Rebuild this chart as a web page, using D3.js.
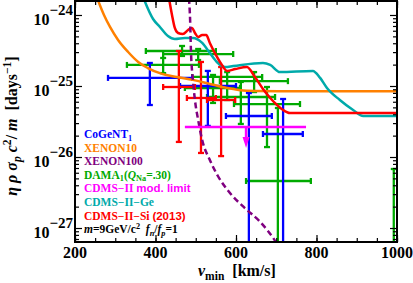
<!DOCTYPE html>
<meta charset="utf-8">
<script src="https://d3js.org/d3.v7.min.js"></script>
<style>
  body { margin: 0; background: #fff; }
  text { font-family: "Liberation Serif", "DejaVu Serif", serif; font-weight: bold; white-space: pre; }
</style>
<body>
<div id="chart"></div>
<script>
// error bars: [vmin, vminLo, vminHi, eta, etaLo, etaHi]   (0 = bar reaches zero)
const cogent = [
  [386, 282, 491, 1.30e-25, 5.40e-26, 2.11e-25],
  [530, 461, 600, 1.00e-25, 2.74e-26, 1.63e-25],
  [632, 575, 689, 3.78e-26, 0, 7.96e-26],
  [717, 667, 766, 2.11e-26, 0, 6.56e-26]
];
const dama = [
  [466, 376, 550, 3.11e-25, 2.65e-25, 3.66e-25],
  [506, 419, 593, 2.82e-25, 2.32e-25, 3.32e-25],
  [419, 329, 508, 1.98e-25, 1.52e-25, 2.48e-25],
  [578, 491, 665, 1.34e-25, 6.35e-26, 1.57e-25],
  [645, 560, 729, 1.17e-25, 8.22e-26, 1.57e-25],
  [543, 473, 610, 9.37e-26, 5.77e-26, 1.43e-25],
  [612, 528, 697, 7.00e-26, 2.92e-26, 1.14e-25],
  [677, 595, 759, 5.57e-26, 1.38e-26, 9.68e-26],
  [704, 625, 786, 4.59e-27, 0, 4.90e-26],
  [992, 960, 1025, 0, 0, 6.78e-27]
];
const cdmsSiPoints = [
  [458, 419, 498, 9.68e-26, 1.63e-26, 3.11e-25],
  [513, 478, 550, 6.78e-26, 1.14e-26, 2.18e-25],
  [563, 528, 598, 6.35e-26, 1.03e-26, 1.85e-25]
];

// limit curves
const xenon10V   = [255, 272, 287, 307, 332, 357, 381, 416, 453, 493, 535, 578, 627, 734, 1000];
const xenon10Eta = [1.73e-24, 1e-24, 6.78e-25, 4.45e-25, 3.01e-25, 2.18e-25, 1.79e-25, 1.48e-25,
                    1.34e-25, 1.22e-25, 1.07e-25, 9.37e-26, 8.6e-26, 8.45e-26, 8.4e-26];

const xenon100V   = [483, 486, 488, 493, 498, 506, 516, 535, 555, 585, 622, 660, 699, 710];
const xenon100Eta = [1.73e-24, 8.51e-25, 3.21e-25, 1.22e-25, 6.35e-26, 3.32e-26, 1.73e-26, 9.08e-27,
                     5.40e-27, 3.11e-27, 1.91e-27, 1.22e-27, 6.35e-28, 5e-28];

const cdmsGeV   = [369, 394, 411, 431, 448, 473, 493, 516, 535, 555, 573, 593, 667, 685, 709, 791,
                   809, 826, 858, 891, 916, 1000];
const cdmsGeEta = [1.79e-24, 8.78e-25, 6.78e-25, 5.06e-25, 4.59e-25, 4.74e-25, 4.74e-25, 4.04e-25,
                   2.92e-25, 2.11e-25, 1.85e-25, 1.91e-25, 2.11e-25, 1.98e-25, 1.57e-25, 1.63e-25,
                   1.30e-25, 9.37e-26, 6.35e-26, 4.59e-26, 3.78e-26, 3.78e-26];

const cdmsSiV   = [433, 441, 448, 456, 468, 481, 491, 498, 506, 516, 526, 535, 550, 565, 578, 598,
                   627, 647, 667, 685, 702, 717, 734, 1000];
const cdmsSiEta = [1.79e-24, 1e-24, 6.56e-25, 5.57e-25, 5.40e-25, 6.15e-25, 6.56e-25, 5.57e-25,
                   4.90e-25, 5.22e-25, 5.22e-25, 4.04e-25, 2.74e-25, 1.98e-25, 1.63e-25, 1.73e-25,
                   1.85e-25, 1.34e-25, 9.08e-26, 6.78e-26, 5.40e-26, 4.59e-26, 4.17e-26, 4.17e-26];

// CDMS-II modulation limit: vmin range, level, arrow position
const modLimitV = [473, 774];
const modLimitEta = 2.65e-26;
const modArrowV = 625;

const xTicks = [200, 400, 600, 800, 1000];
const yTicks = [1e-27, 1e-26, 1e-25, 1e-24];
const yTickExp = ["\u221227", "\u221226", "\u221225", "\u221224"];

const legendItems = [
  {color: "#0000ff", parts: [["CoGeNT", ""], ["1", "sub"]]},
  {color: "#ff8000", parts: [["XENON10", ""]]},
  {color: "#800080", parts: [["XENON100", ""]]},
  {color: "#00aa00", parts: [["DAMA", ""], ["1", "sub"], ["(", ""], ["Q", "i"], ["Na", "sub"], ["=.30)", ""]]},
  {color: "#ff00ff", parts: [["CDMS\u2212II ", ""], ["mod. limit", "sans"]]},
  {color: "#00aaaa", parts: [["CDMS\u2212II\u2212Ge", ""]]},
  {color: "#ff0000", parts: [["CDMS\u2212II\u2212Si ", ""], ["(2013)", "sans"]]},
  {color: "#000000", parts: [["m", "i"], ["=9GeV/c", ""], ["2", "sup"], ["  ", ""], ["f", "i"], ["n", "isub"],
                             ["/", ""], ["f", "i"], ["p", "isub"], ["=1", ""]]}
];

// layout
const W = 413, H = 283;
const pLeft = 75, pRight = 397, pTop = 1, pBottom = 242;

const svg = d3.select("#chart").append("svg").attr("width", W).attr("height", H);

const x = d3.scaleLinear().domain([200, 1000]).range([pLeft, pRight]);
const y = d3.scaleLog().domain([Math.pow(10, -27.197), Math.pow(10, -23.803)]).range([pBottom, pTop]);
const yc = v => v > 0 ? y(v) : pBottom + 10;

svg.append("clipPath").attr("id", "clip")
  .append("rect").attr("x", pLeft).attr("y", pTop).attr("width", pRight - pLeft).attr("height", pBottom - pTop);

const plot = svg.append("g").attr("clip-path", "url(#clip)");

function errorBars(rows, color) {
  const g = plot.append("g").attr("stroke", color).attr("stroke-width", 2.3).attr("fill", "none");
  const cap = 3;
  rows.forEach(r => {
    const [v, vlo, vhi, eta, lo, hi] = r;
    const cx = x(v);
    if (eta > 0) {
      const cy = y(eta);
      g.append("line").attr("x1", x(vlo)).attr("x2", x(vhi)).attr("y1", cy).attr("y2", cy);
      g.append("line").attr("x1", x(vlo)).attr("x2", x(vlo)).attr("y1", cy - cap).attr("y2", cy + cap);
      g.append("line").attr("x1", x(vhi)).attr("x2", x(vhi)).attr("y1", cy - cap).attr("y2", cy + cap);
    }
    g.append("line").attr("x1", cx).attr("x2", cx).attr("y1", yc(lo)).attr("y2", y(hi));
    g.append("line").attr("x1", cx - cap).attr("x2", cx + cap).attr("y1", y(hi)).attr("y2", y(hi));
    if (lo > 0) g.append("line").attr("x1", cx - cap).attr("x2", cx + cap).attr("y1", y(lo)).attr("y2", y(lo));
  });
}

function curve(vs, etas, color, dash) {
  const line = d3.line().x(d => x(d[0])).y(d => y(d[1])).curve(d3.curveMonotoneX);
  const p = plot.append("path").datum(d3.zip(vs, etas))
    .attr("d", line).attr("fill", "none").attr("stroke", color).attr("stroke-width", 2.5);
  if (dash) p.attr("stroke-dasharray", dash);
}

errorBars(dama, "#00aa00");
errorBars(cogent, "#0000ff");
errorBars(cdmsSiPoints, "#ff0000");
curve(xenon10V, xenon10Eta, "#ff8000");
curve(cdmsGeV, cdmsGeEta, "#00aaaa");
curve(cdmsSiV, cdmsSiEta, "#ff0000");
curve(xenon100V, xenon100Eta, "#800080", "6,3.5");

// CDMS-II modulation limit with arrow
const my = y(modLimitEta), ax = x(modArrowV);
plot.append("line").attr("x1", x(modLimitV[0])).attr("x2", x(modLimitV[1]))
  .attr("y1", my).attr("y2", my).attr("stroke", "#ff00ff").attr("stroke-width", 2.5);
plot.append("line").attr("x1", ax).attr("x2", ax).attr("y1", my).attr("y2", my + 12)
  .attr("stroke", "#ff00ff").attr("stroke-width", 2.5);
plot.append("path").attr("d", `M${ax - 3.5},${my + 10}L${ax + 3.5},${my + 10}L${ax},${my + 21}Z`)
  .attr("fill", "#ff00ff");

// ticks on all four sides, pointing inward
const xMinor = d3.range(200, 1001, 50);
const yMinor = [];
for (let e = -28; e <= -24; e++) for (let k = 2; k <= 9; k++) yMinor.push(k * Math.pow(10, e));
const yIn = yMinor.filter(v => v > y.domain()[0] && v < y.domain()[1]);

const tickG = svg.append("g").attr("stroke-width", 1.2);
function addAxis(axis, tf, vals, size) {
  tickG.append("g").attr("transform", tf)
    .call(axis.tickValues(vals).tickSize(-size).tickFormat(""))
    .call(g => g.select(".domain").remove());
}
addAxis(d3.axisBottom(x), `translate(0,${pBottom})`, xMinor, 4);
addAxis(d3.axisBottom(x), `translate(0,${pBottom})`, xTicks, 7);
addAxis(d3.axisTop(x), `translate(0,${pTop})`, xMinor, 4);
addAxis(d3.axisTop(x), `translate(0,${pTop})`, xTicks, 7);
addAxis(d3.axisLeft(y), `translate(${pLeft},0)`, yIn, 4);
addAxis(d3.axisLeft(y), `translate(${pLeft},0)`, yTicks, 7);
addAxis(d3.axisRight(y), `translate(${pRight},0)`, yIn, 4);
addAxis(d3.axisRight(y), `translate(${pRight},0)`, yTicks, 7);

svg.append("rect").attr("x", pLeft).attr("y", pTop).attr("width", pRight - pLeft).attr("height", pBottom - pTop)
  .attr("fill", "none").attr("stroke", "#000").attr("stroke-width", 2);

// tick labels
svg.selectAll(".xl").data(xTicks).join("text")
  .attr("x", d => x(d)).attr("y", 258).attr("text-anchor", "middle")
  .attr("font-size", 16).text(d => d);

yTicks.forEach((v, i) => {
  const t = svg.append("text").attr("x", 73).attr("y", y(v) + 10).attr("text-anchor", "end").attr("font-size", 16);
  t.append("tspan").text("10");
  t.append("tspan").attr("dy", -10).attr("font-size", 15).text(yTickExp[i]);
});

// rich text helper
function rich(sel, parts, size) {
  let shift = 0;
  parts.forEach(([t, k]) => {
    const target = (k === "sub" || k === "isub") ? size * 0.22 : k === "sup" ? -size * 0.38 : 0;
    const sp = sel.append("tspan").text(t).attr("dy", target - shift);
    shift = target;
    if (k === "sub" || k === "isub" || k === "sup") sp.attr("font-size", size * 0.72);
    if (k === "i" || k === "isub") sp.attr("font-style", "italic");
    if (k === "sans") sp.attr("font-family", "Liberation Sans, Arial, sans-serif");
  });
}

// axis titles
const xt = svg.append("text").attr("x", 198).attr("y", 276).attr("font-size", 16);
rich(xt, [["v", "i"], ["min", "sub"], ["  [km/s]", ""]], 16);

const yt = svg.append("text").attr("transform", "translate(17,126) rotate(-90)")
  .attr("text-anchor", "middle").attr("font-size", 16);
rich(yt, [["\u03b7 \u03c1 \u03c3", "i"], ["p", "isub"], [" c", "i"], ["2", "sup"], ["/ ", ""], ["m", "i"],
          ["  [days", ""], ["\u22121", "sup"], ["]", ""]], 16);

// legend
legendItems.forEach((d, i) => {
  const t = svg.append("text").attr("x", 84).attr("y", 138 + i * 13.6)
    .attr("font-size", 11.5).attr("fill", d.color);
  rich(t, d.parts, 11.5);
});
</script>
</body>
